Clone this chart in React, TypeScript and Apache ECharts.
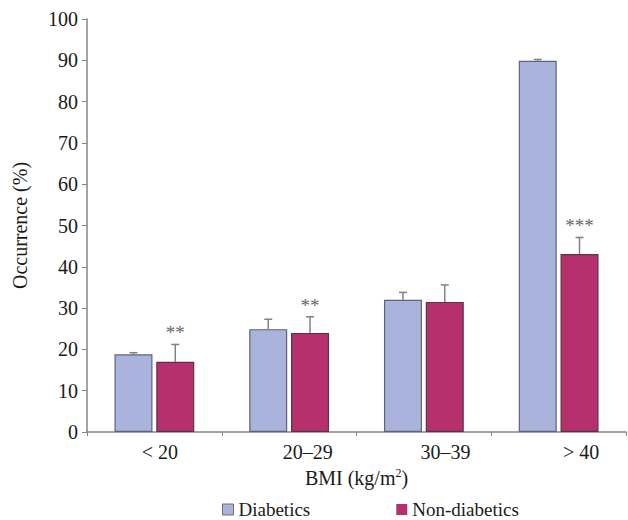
import React, { useEffect, useRef } from "react";
import * as echarts from "echarts";

const categories = ["< 20", "20–29", "30–39", "> 40"];
const diabetics = [18.8, 24.9, 32.0, 89.9];
const diabeticsErrTop = [19.2, 27.3, 33.8, 90.2];
const nonDiabetics = [17.0, 24.0, 31.5, 43.1];
const nonDiabeticsErrTop = [21.2, 27.9, 35.6, 47.1];
const nonDiabeticsStars = ["**", "**", "", "***"];
const yTicks = { min: 0, max: 100, interval: 10 };

const FONT = "Liberation Serif";
const AXIS_COLOR = "#8c8378";
const DIAB_COLOR = "#a9b3dc";
const NON_COLOR = "#b5306d";
const ERR_COLOR = "#8a7f7f";
const LABEL_SHIFT = [11, 37, 43, 45];

export default function App() {
  const ref = useRef<HTMLDivElement>(null);
  useEffect(() => {
    if (!ref.current) return;
    const chart = echarts.init(ref.current, undefined, { renderer: "svg" });
    const BAR_W = 38;
    const OFFSET = (BAR_W * 1.1) / 2;

    const makeErr = (vals: number[], tops: number[], stars: string[] | null, sign: number) => ({
      type: "custom",
      z: 1,
      silent: true,
      data: vals.map((v, i) => [i, v, tops[i], stars ? stars[i] : ""]),
      encode: { x: 0, y: 2 },
      renderItem: (params: any, api: any) => {
        const i = api.value(0);
        const base = api.coord([i, api.value(1)]);
        const top = api.coord([i, api.value(2)]);
        const x = base[0] + sign * OFFSET;
        const star = stars ? stars[params.dataIndex] : "";
        const children: any[] = [
          { type: "line", shape: { x1: x, y1: base[1], x2: x, y2: top[1] }, style: { stroke: ERR_COLOR, lineWidth: 1.5 } },
          { type: "line", shape: { x1: x - 4, y1: top[1], x2: x + 4, y2: top[1] }, style: { stroke: ERR_COLOR, lineWidth: 1.5 } },
        ];
        if (star) {
          children.push({
            type: "text",
            style: {
              x: x,
              y: top[1] - 2,
              text: star,
              align: "center",
              verticalAlign: "bottom",
              fill: "#666",
              fontFamily: FONT,
              fontSize: 19,
            },
          });
        }
        return { type: "group", children };
      },
    });

    const rich: any = {};
    LABEL_SHIFT.forEach((s, i) => {
      rich["l" + i] = { fontFamily: FONT, fontSize: 20, color: "#1a1a1a", padding: [0, 0, 0, s] };
    });

    chart.setOption({
      animation: false,
      grid: { left: 87, right: 2, top: 19, bottom: 88 },
      legend: {
        top: 500,
        left: 222,
        padding: 0,
        itemGap: 86,
        itemWidth: 11,
        itemHeight: 11,
        icon: "rect",
        textStyle: { fontFamily: FONT, fontSize: 19, color: "#1a1a1a" },
        data: [
          { name: "Diabetics", itemStyle: { color: DIAB_COLOR, borderColor: "#6e6e80", borderWidth: 1 } },
          { name: "Non-diabetics", itemStyle: { color: NON_COLOR, borderColor: NON_COLOR, borderWidth: 0 } },
        ],
      },
      xAxis: {
        type: "category",
        data: categories,
        name: "BMI (kg/m{sup|2})",
        nameLocation: "middle",
        nameGap: 35,
        nameTextStyle: {
          fontFamily: FONT,
          fontSize: 20,
          color: "#1a1a1a",
          rich: { sup: { fontFamily: FONT, fontSize: 12, verticalAlign: "top", padding: [0, 0, 10, 0], color: "#1a1a1a" } },
        },
        axisLine: { lineStyle: { color: AXIS_COLOR, width: 1.5 } },
        axisTick: { show: true, length: 4, lineStyle: { color: AXIS_COLOR } },
        axisLabel: {
          margin: 10,
          formatter: (v: string, i: number) => `{l${i}|${v}}`,
          rich,
        },
      },
      yAxis: {
        type: "value",
        min: yTicks.min,
        max: yTicks.max,
        interval: yTicks.interval,
        name: "Occurrence (%)",
        nameLocation: "middle",
        nameGap: 57,
        nameTextStyle: { fontFamily: FONT, fontSize: 20, color: "#1a1a1a" },
        splitLine: { show: false },
        axisLine: { show: true, lineStyle: { color: AXIS_COLOR, width: 1.5 } },
        axisTick: { show: true, length: 5, lineStyle: { color: AXIS_COLOR } },
        axisLabel: { fontFamily: FONT, fontSize: 20, color: "#1a1a1a", margin: 9 },
      },
      series: [
        {
          name: "Diabetics",
          type: "bar",
          data: diabetics,
          barWidth: BAR_W,
          barGap: "10%",
          z: 2,
          itemStyle: { color: DIAB_COLOR, borderColor: "#62627a", borderWidth: 1.2 },
        },
        {
          name: "Non-diabetics",
          type: "bar",
          data: nonDiabetics,
          barWidth: BAR_W,
          barGap: "10%",
          z: 2,
          itemStyle: { color: NON_COLOR, borderColor: "#5e3346", borderWidth: 1.2 },
        },
        makeErr(diabetics, diabeticsErrTop, null, -1),
        makeErr(nonDiabetics, nonDiabeticsErrTop, nonDiabeticsStars, 1),
      ],
    });
    return () => chart.dispose();
  }, []);
  return <div ref={ref} style={{ position: "absolute", left: 0, top: 0, width: 628, height: 520 }} />;
}
